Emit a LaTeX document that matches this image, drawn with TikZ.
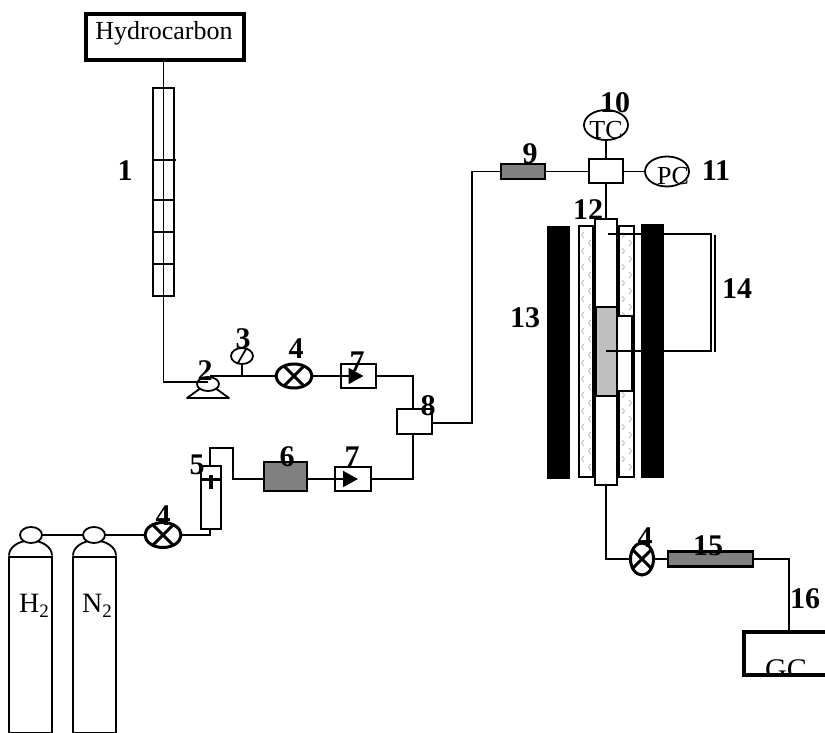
\documentclass[tikz,border=0pt]{standalone}
\usepackage{fontspec}
\setmainfont{Liberation Serif}
\usetikzlibrary{
arrows.meta,
shapes.geometric
}

\begin{document}
\begin{tikzpicture}[
x=1pt,y=-1pt,
pipe/.style={line width=1.8pt},
sized/.style 2 args={minimum width=#1pt,minimum height=#2pt},
box/.style={draw,line width=2pt,inner sep=0pt,outer sep=0pt,fill=white},
filter/.style={box,line width=2.2pt,fill=black!50},
wall/.style={fill=black,inner sep=0pt,outer sep=0pt},
round/.style={draw,ellipse,pipe,fill=white,inner sep=0pt,outer sep=0pt},
meter/.style={round,sized={44}{30}},
valve/.style={draw,ellipse,line width=3pt,inner sep=0pt,outer sep=0pt,fill=white},
num/.style={font=\fontsize{30}{30}\selectfont\bfseries,inner sep=0pt},
gas/.style={font=\fontsize{26}{26}\selectfont,inner sep=0pt},
bottlegas/.style={font=\fontsize{28}{28}\selectfont,inner sep=0pt},
arrow/.style={pipe,-{Triangle[length=15pt,width=16pt]}}
]

\useasboundingbox (0,0) rectangle (825,733);

\node[box,line width=4pt,sized={158}{46}] (source) at (165,37) {};
\node[gas] (sourcetext) at (164,33) {Hydrocarbon};
\node[box,sized={21}{208}] (column) at (163.5,192) {};
\node[inner sep=0pt,outer sep=0pt,sized={42}{28}] (pump) at (208,384) {};
\node[round,sized={22}{14}] (pumphead) at (208,384) {};
\node[round,sized={22}{16}] (gauge) at (242,356) {};
\node[valve,sized={36}{24}] (valveA) at (294,376) {};
\node[box,sized={35}{24}] (checkA) at (358.5,376) {};
\node[box,sized={35}{25}] (mixer) at (414.5,421.5) {};
\node[filter,sized={44}{15}] (filterA) at (523,171.5) {};
\node[box,sized={34}{24}] (cross) at (606,171.5) {};
\node[meter] (tc) at (606,125) {};
\node[meter] (pc) at (667,171.5) {};

\coordinate (bendA) at (163.5,382);
\coordinate (bendB) at (413,376);
\coordinate (bendC) at (472,423);
\coordinate (bendD) at (472,171.5);
\coordinate (bendE) at (413,479);
\coordinate (bendF) at (210,535);
\coordinate (bendG) at (210,448);
\coordinate (bendH) at (233,448);
\coordinate (bendI) at (233,479);
\coordinate (bendJ) at (606,559);
\coordinate (bendK) at (789,559);

\draw[pipe] (source.south -| column) -- (bendA) -- (bendA -| pumphead);
\draw[pipe] (column.north) -- (column.south);
\draw[pipe] (column.west |- 0,160) -- (176,160);
\foreach \y in {200,232,264}
\draw[pipe] (column.west |- 0,\y) -- (column.east |- 0,\y);

\draw[pipe] (pumphead.70 |- valveA.west) -- (valveA.west);
\draw[pipe] (gauge.south) -- (gauge.south |- valveA.west);
\draw[pipe] (gauge.60) -- (gauge.240);
\draw[pipe,line join=round] (pumphead.210) -- (pump.south west) -- (pump.south east) -- (pumphead.330);
\draw[pipe] (valveA.east) -- (checkA.west);
\draw[pipe] (checkA.east) -- (bendB) -- (bendB |- mixer.north);
\draw[pipe] (mixer.east |- bendC) -- (bendC) -- (bendD) -- (filterA.west);
\draw[pipe] (filterA.east) -- (cross.west);
\draw[pipe] (cross.north) -- (tc.south);
\draw[pipe] (cross.east) -- (pc.west);

\node[wall,sized={23}{253}] (heaterL) at (558.5,352.5) {};
\node[wall,sized={23}{254}] (heaterR) at (652.5,351) {};
\node[box,sized={14}{251}] (layerL) at (586,351.5) {};
\node[box,sized={15}{251}] (layerR) at (626.5,351.5) {};
\foreach \y in {232,248,...,468}{
\draw[black!45] (584,\y) -- (581.5,\y+3) -- (584,\y+6);
\draw[black!45] (591,\y+8) -- (588.5,\y+11) -- (591,\y+14);
\draw[black!45] (622,\y) -- (624.5,\y+3) -- (622,\y+6);
\draw[black!45] (629,\y+8) -- (631.5,\y+11) -- (629,\y+14);
}
\node[box,line width=2.2pt,sized={22}{266}] (tube) at (606,352) {};
\node[box,fill=black!25,sized={21}{89}] (catalyst) at (606.5,351.5) {};
\node[box,sized={15}{75}] (well) at (624.5,353.5) {};
\draw[pipe] (cross.south) -- (tube.north);

\coordinate (tcouplAa) at (608,234);
\coordinate (tcouplAb) at (711,234);
\coordinate (tcouplBa) at (606,351);
\coordinate (tcouplBb) at (711,351);
\coordinate (tcouplCa) at (715,235);
\coordinate (tcouplCb) at (715,352);
\draw[line width=2.5pt] (tcouplAa) -- (tcouplAb) -- (tcouplBb) -- (tcouplBa);
\draw[line width=2.5pt] (tcouplCa) -- (tcouplCb);

\node[valve,sized={23}{32}] (valveC) at (642,559) {};
\node[filter,sized={85}{15}] (filterC) at (710.5,559) {};
\node[inner sep=0pt,outer sep=0pt,sized={81}{43}] (gc) at (784.5,653.5) {};
\draw[pipe] (tube.south) -- (bendJ) -- (valveC.west);
\draw[pipe] (valveC.east) -- (filterC.west);
\draw[pipe] (filterC.east) -- (bendK) -- (gc.north -| bendK);
\draw[line width=4pt] (gc.north east) -- (gc.north west) -- (gc.south west) -- (gc.south east);
\begin{scope}
\clip (gc.north west) rectangle (gc.south east);
\node[font=\fontsize{30}{30}\selectfont,inner sep=0pt] (gctext) at (786,670) {GC};
\end{scope}

\node[box,sized={43}{176}] (bottleH) at (30.5,645) {};
\node[box,sized={43}{176}] (bottleN) at (94.5,645) {};
\foreach \b in {bottleH,bottleN}
\draw[pipe] ([yshift=1.5pt]\b.north west) arc[start angle=180,end angle=0,x radius=21.5pt,y radius=15pt];
\node[round,sized={22}{16}] (capH) at (31,535) {};
\node[round,sized={22}{16}] (capN) at (94,535) {};
\node[valve,sized={36}{25}] (valveB) at (163,535) {};
\node[box,sized={20}{63}] (trap) at (210.5,497.5) {};
\node[filter,sized={43}{29}] (filterB) at (285.5,476.5) {};
\node[box,sized={36}{24}] (checkB) at (353,479) {};

\draw[pipe] (capH) -- (capN);
\draw[pipe] (capN) -- (valveB);
\draw[pipe] (valveB.east) -- (bendF) -- (trap.south -| bendF);
\draw[pipe] (trap.north -| bendG) -- (bendG) -- (bendH) -- (bendI) -- (bendI -| filterB.west);
\draw[pipe] (bendI -| filterB.east) -- (checkB.west);
\draw[pipe] (checkB.east) -- (bendE) -- (bendE |- mixer.south);
\draw[line width=3pt] (trap.west |- 0,479) -- (221,479);
\draw[line width=3.5pt] (211,475) -- (211,489);

\foreach \v in {valveA,valveB,valveC}
\draw[line width=3pt] (\v.45) -- (\v.225) (\v.135) -- (\v.315);

\draw[arrow] (checkA.west) -- ([xshift=5pt]checkA.center);
\draw[arrow] (checkB.west) -- ([xshift=5pt]checkB.center);

\node[gas] (tctext) at (606,130) {TC};
\node[gas] (pctext) at (673,176) {PC};
\node[bottlegas] (h2text) at (34,606) {H\raisebox{-5pt}{\fontsize{19}{19}\selectfont 2}};
\node[bottlegas] (n2text) at (97,606) {N\raisebox{-5pt}{\fontsize{19}{19}\selectfont 2}};

\node[num] (num1) at (125,171) {1};
\node[num] (num2) at (205,371) {2};
\node[num] (num3) at (243,339) {3};
\node[num] (num4a) at (296,349) {4};
\node[num] (num4b) at (163,516) {4};
\node[num] (num4c) at (645,538) {4};
\node[num] (num5) at (197,465) {5};
\node[num] (num6) at (287,457) {6};
\node[num] (num7a) at (357,362) {7};
\node[num] (num7b) at (352,457) {7};
\node[num] (num8) at (428,406) {8};
\node[num] (num9) at (530,154) {9};
\node[num] (num10) at (615,103) {10};
\node[num] (num11) at (716,171) {11};
\node[num] (num12) at (588,210) {12};
\node[num] (num13) at (525,318) {13};
\node[num] (num14) at (737,289) {14};
\node[num] (num15) at (708,546) {15};
\node[num] (num16) at (805,599) {16};

\end{tikzpicture}
\end{document}
